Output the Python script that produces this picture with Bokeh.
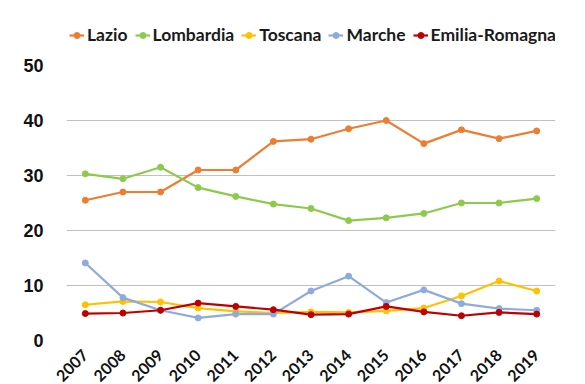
from bokeh.plotting import figure
from bokeh.layouts import column
from bokeh.models import Legend, LegendItem, FixedTicker, Range1d
from bokeh.embed import file_html
from bokeh.resources import INLINE
from math import pi

years = ["2007", "2008", "2009", "2010", "2011", "2012", "2013",
         "2014", "2015", "2016", "2017", "2018", "2019"]

lazio = [25.5, 27.0, 27.0, 31.0, 31.0, 36.2, 36.6, 38.5, 40.0, 35.8, 38.3, 36.7, 38.1]
lombardia = [30.3, 29.4, 31.5, 27.8, 26.2, 24.8, 24.0, 21.8, 22.3, 23.1, 25.0, 25.0, 25.8]
toscana = [6.5, 7.1, 7.0, 5.9, 5.3, 5.0, 5.2, 5.1, 5.4, 5.9, 8.1, 10.8, 9.0]
marche = [14.1, 7.8, 5.5, 4.1, 4.8, 4.8, 9.0, 11.7, 6.9, 9.2, 6.7, 5.8, 5.5]
emilia_romagna = [4.9, 5.0, 5.5, 6.8, 6.2, 5.6, 4.7, 4.8, 6.2, 5.2, 4.5, 5.1, 4.8]

series = [
    ("Lazio", lazio, "#ED7D31"),
    ("Lombardia", lombardia, "#8CCB4A"),
    ("Toscana", toscana, "#FFC000"),
    ("Marche", marche, "#8FAADC"),
    ("Emilia-Romagna", emilia_romagna, "#C00000"),
]

# main chart, plotting area fixed at 489 x 275 px
p = figure(
    x_range=years, y_range=Range1d(0, 50),
    frame_width=489, frame_height=275,
    output_backend="svg", toolbar_location=None,
    min_border_left=66, min_border_right=30,
    min_border_top=19, min_border_bottom=40,
)
p.x_range.range_padding = 0
p.outline_line_color = None

# strip holding only the legend, above the chart (frames are aligned in the column)
key = figure(
    x_range=Range1d(0, 1), y_range=Range1d(0, 1),
    x_axis_type=None, y_axis_type=None,
    width=585, height=46,
    output_backend="svg", toolbar_location=None,
    min_border_left=0, min_border_right=0,
    min_border_top=0, min_border_bottom=0,
)
key.grid.visible = False
key.outline_line_color = None

items = []
for name, vals, color in series:
    p.line(years, vals, line_color=color, line_width=2.2)
    p.scatter(years, vals, size=6, fill_color=color, line_color=color)
    # legend handles only; their points lie outside the strip's ranges
    kl = key.line([5, 6], [5, 6], line_color=color, line_width=2.2)
    kd = key.scatter([5], [5], size=6, fill_color=color, line_color=color)
    items.append(LegendItem(label=name, renderers=[kl, kd]))

legend = Legend(items=items, orientation="horizontal", location=(3, 1),
                border_line_color=None, background_fill_alpha=0,
                label_text_font="Lato", label_text_font_size="17.5px",
                label_text_font_style="bold",
                label_text_color="#1a1a1a",
                glyph_width=15, glyph_height=18, label_standoff=3,
                spacing=7, padding=0, margin=0)
key.add_layout(legend, "center")

p.xgrid.grid_line_color = None
p.ygrid.grid_line_color = "#c0c0c0"
p.ygrid.grid_line_width = 1.2
p.yaxis.ticker = FixedTicker(ticks=[0, 10, 20, 30, 40, 50])

for ax in (p.xaxis, p.yaxis):
    ax.axis_line_color = None
    ax.major_tick_line_color = None
    ax.minor_tick_line_color = None
    ax.major_label_text_color = "#111111"
    ax.major_label_text_font_style = "bold"

p.yaxis.major_label_text_font = "Liberation Sans"
p.yaxis.major_label_text_font_size = "18px"
p.yaxis.major_label_standoff = 17

p.xaxis.major_label_text_font = "Lato"
p.xaxis.major_label_text_font_size = "16px"
p.xaxis.major_label_orientation = pi / 4
p.xaxis.major_label_standoff = 6

open("out.html", "w").write(file_html(column(key, p, spacing=0), INLINE))
